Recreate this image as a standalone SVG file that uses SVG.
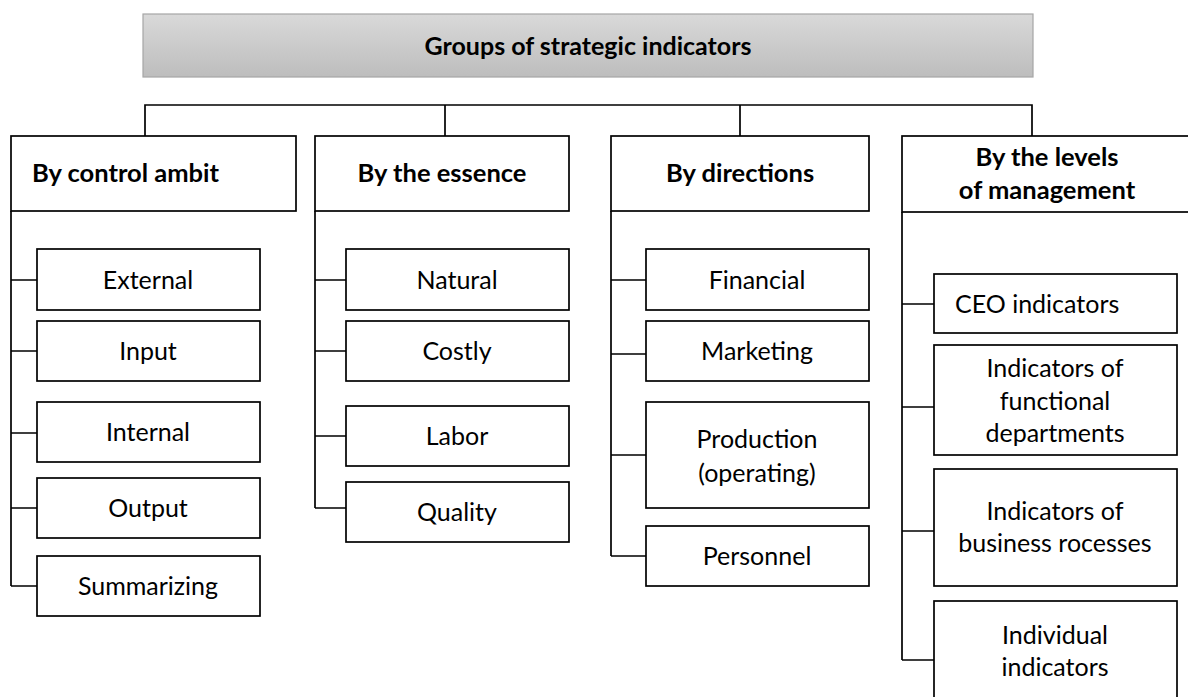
<svg xmlns="http://www.w3.org/2000/svg" width="1188" height="697" viewBox="0 0 1188 697">
<defs>
<linearGradient id="g" x1="0" y1="0" x2="0" y2="1">
<stop offset="0" stop-color="#d9d9d9"/>
<stop offset="1" stop-color="#bdbdbd"/>
</linearGradient>
</defs>
<style>
rect{fill:#fff;stroke:#000;stroke-width:1.7}
#root rect{fill:url(#g);stroke:#a6a6a6;stroke-width:1.2}
text{font-family:Lato,"Liberation Sans",sans-serif;font-size:25px;fill:#000;text-anchor:middle}
.h{font-weight:bold;font-size:25.5px}
.t{font-weight:bold;font-size:25px}
.l{text-anchor:start}
#connectors path{fill:none;stroke:#000;stroke-width:1.7}
</style>
<g id="root"><rect x="143" y="14" width="890" height="63"/><text class="t" x="588" y="55">Groups of strategic indicators</text></g>
<g id="connectors">
<path d="M145 136V105H1032V136M445 105V136M740 105V136"/>
<path d="M11 211V586M11 280H37M11 351H37M11 433H37M11 508H37M11 586H37"/>
<path d="M315 211V508M315 280H346M315 351H346M315 436H346M315 508H346"/>
<path d="M611 211V556M611 280H646M611 354H646M611 455H646M611 556H646"/>
<path d="M902 212V660M902 304H934M902 407H934M902 531H934M902 660H934"/>
</g>
<g id="c1"><rect x="11" y="136" width="285" height="75"/><text class="h l" x="32" y="182">By control ambit</text></g>
<g id="c2"><rect x="315" y="136" width="254" height="75"/><text class="h" x="442" y="182">By the essence</text></g>
<g id="c3"><rect x="611" y="136" width="258" height="75"/><text class="h" x="740" y="182">By directions</text></g>
<g id="c4"><rect x="902" y="136" width="290" height="76"/><text class="h" x="1047" y="166">By the levels</text><text class="h" x="1047" y="199">of management</text></g>
<g id="external"><rect x="37" y="249" width="223" height="61"/><text x="148" y="289">External</text></g>
<g id="input"><rect x="37" y="321" width="223" height="60"/><text x="148" y="360">Input</text></g>
<g id="internal"><rect x="37" y="402" width="223" height="60"/><text x="148" y="441">Internal</text></g>
<g id="output"><rect x="37" y="478" width="223" height="60"/><text x="148" y="517">Output</text></g>
<g id="summarizing"><rect x="37" y="556" width="223" height="60"/><text x="148" y="595">Summarizing</text></g>
<g id="natural"><rect x="346" y="249" width="223" height="61"/><text x="457" y="289">Natural</text></g>
<g id="costly"><rect x="346" y="321" width="223" height="60"/><text x="457" y="360">Costly</text></g>
<g id="labor"><rect x="346" y="406" width="223" height="60"/><text x="457" y="445">Labor</text></g>
<g id="quality"><rect x="346" y="482" width="223" height="60"/><text x="457" y="521">Quality</text></g>
<g id="financial"><rect x="646" y="249" width="223" height="61"/><text x="757" y="289">Financial</text></g>
<g id="marketing"><rect x="646" y="321" width="223" height="60"/><text x="757" y="360">Marketing</text></g>
<g id="production"><rect x="646" y="402" width="223" height="106"/><text x="757" y="448">Production</text><text x="757" y="482">(operating)</text></g>
<g id="personnel"><rect x="646" y="526" width="223" height="60"/><text x="757" y="565">Personnel</text></g>
<g id="ceo"><rect x="934" y="274" width="243" height="59"/><text class="l" x="955" y="313">CEO indicators</text></g>
<g id="functional"><rect x="934" y="345" width="243" height="110"/><text x="1055" y="377">Indicators of</text><text x="1055" y="410">functional</text><text x="1055" y="442">departments</text></g>
<g id="business"><rect x="934" y="469" width="243" height="117"/><text x="1055" y="520">Indicators of</text><text x="1055" y="552">business rocesses</text></g>
<g id="individual"><rect x="934" y="601" width="243" height="110"/><text x="1055" y="644">Individual</text><text x="1055" y="676">indicators</text></g>
</svg>
